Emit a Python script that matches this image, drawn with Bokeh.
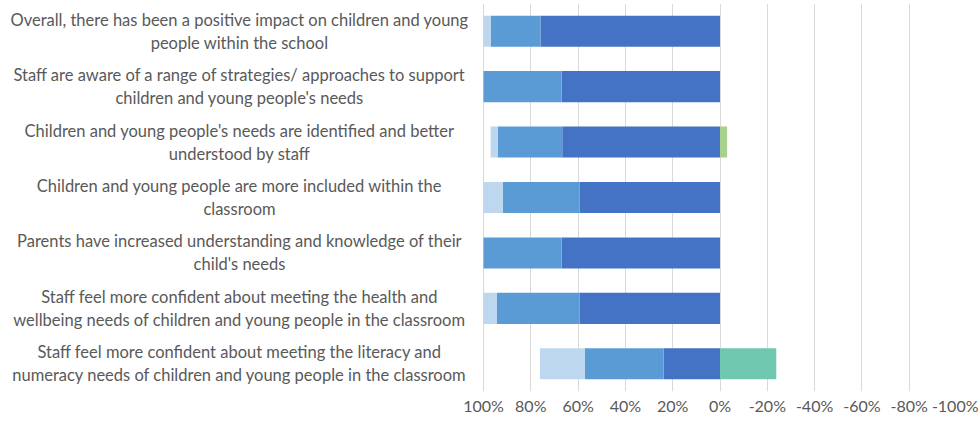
from bokeh.plotting import figure
from bokeh.models import Range1d, FixedTicker, PrintfTickFormatter, ColumnDataSource
from bokeh.core.properties import value
from bokeh.embed import file_html
from bokeh.resources import INLINE

statements = [
    ("Overall, there has been a positive impact on children and young", "people within the school"),
    ("Staff are aware of a range of strategies/ approaches to support", "children and young people's needs"),
    ("Children and young people's needs are identified and better", "understood by staff"),
    ("Children and young people are more included within the", "classroom"),
    ("Parents have increased understanding and knowledge of their", "child's needs"),
    ("Staff feel more confident about meeting the health and", "wellbeing needs of children and young people in the classroom"),
    ("Staff feel more confident about meeting the literacy and", "numeracy needs of children and young people in the classroom"),
]
strongly_agree = [75.8, 67.0, 66.7, 59.3, 67.0, 59.3, 23.8]
agree = [21.2, 33.0, 27.3, 32.5, 33.0, 35.0, 33.3]
neither = [3.0, 0.0, 3.0, 8.2, 0.0, 5.7, 19.0]
disagree = [0.0, 0.0, 3.0, 0.0, 0.0, 0.0, 0.0]
strongly_disagree = [0.0, 0.0, 0.0, 0.0, 0.0, 0.0, 23.8]
x_ticks = [100, 80, 60, 40, 20, 0, -20, -40, -60, -80, -100]

colors_pos = ["#4472C4", "#5B9BD5", "#BDD7EE"]
colors_neg = ["#A9D18E", "#6FC7AF"]
TEXT = "#595959"
FONT = "Lato"

W, H = 978, 423
BORDER_R = 22
LABEL_AREA_PX = 483      # pixels left of the 100% line reserved for category labels
LABEL_CENTER_PX = 239    # centre of the label text, from the left edge
bar_span_px = W - BORDER_R - LABEL_AREA_PX
units_per_px = (x_ticks[0] - x_ticks[-1]) / bar_span_px
x_start = x_ticks[0] + LABEL_AREA_PX * units_per_px
label_x = x_start - LABEL_CENTER_PX * units_per_px

idx = list(range(len(statements)))

src = ColumnDataSource(dict(
    y=idx,
    sa=strongly_agree, a=agree, n=neither,
    d=[-v for v in disagree], sd=[-v for v in strongly_disagree],
    l1=[s[0] for s in statements], l2=[s[1] for s in statements],
    cx=[label_x] * len(idx),
))

p = figure(width=W, height=H, output_backend="svg", toolbar_location=None,
           x_range=Range1d(x_start, x_ticks[-1]), y_range=Range1d(len(idx) - 0.5, -0.5),
           min_border_left=0, min_border_right=BORDER_R, min_border_top=3, min_border_bottom=32)

p.hbar_stack(["sa", "a", "n"], y="y", height=0.56, color=colors_pos, line_color=None, source=src)
p.hbar_stack(["d", "sd"], y="y", height=0.56, color=colors_neg, line_color=None, source=src)

for col, off in (("l1", -11.5), ("l2", 11.5)):
    p.text(x="cx", y="y", text=col, y_offset=off, text_align="center", text_baseline="middle",
           text_font=value(FONT), text_font_size=value("16.5px"), text_color=TEXT, source=src)

p.outline_line_color = None
p.yaxis.visible = False
p.ygrid.visible = False

xa = p.xaxis[0]
xa.ticker = FixedTicker(ticks=x_ticks)
xa.formatter = PrintfTickFormatter(format="%d%%")
xa.axis_line_color = None
xa.major_tick_line_color = None
xa.minor_tick_line_color = None
xa.major_label_text_color = TEXT
xa.major_label_text_font = FONT
xa.major_label_text_font_size = "16px"
xa.major_label_standoff = -2

p.xgrid.ticker = FixedTicker(ticks=x_ticks)
p.xgrid.grid_line_color = "#D9D9D9"
p.xgrid.grid_line_width = 1

open("out.html", "w").write(file_html(p, INLINE))
